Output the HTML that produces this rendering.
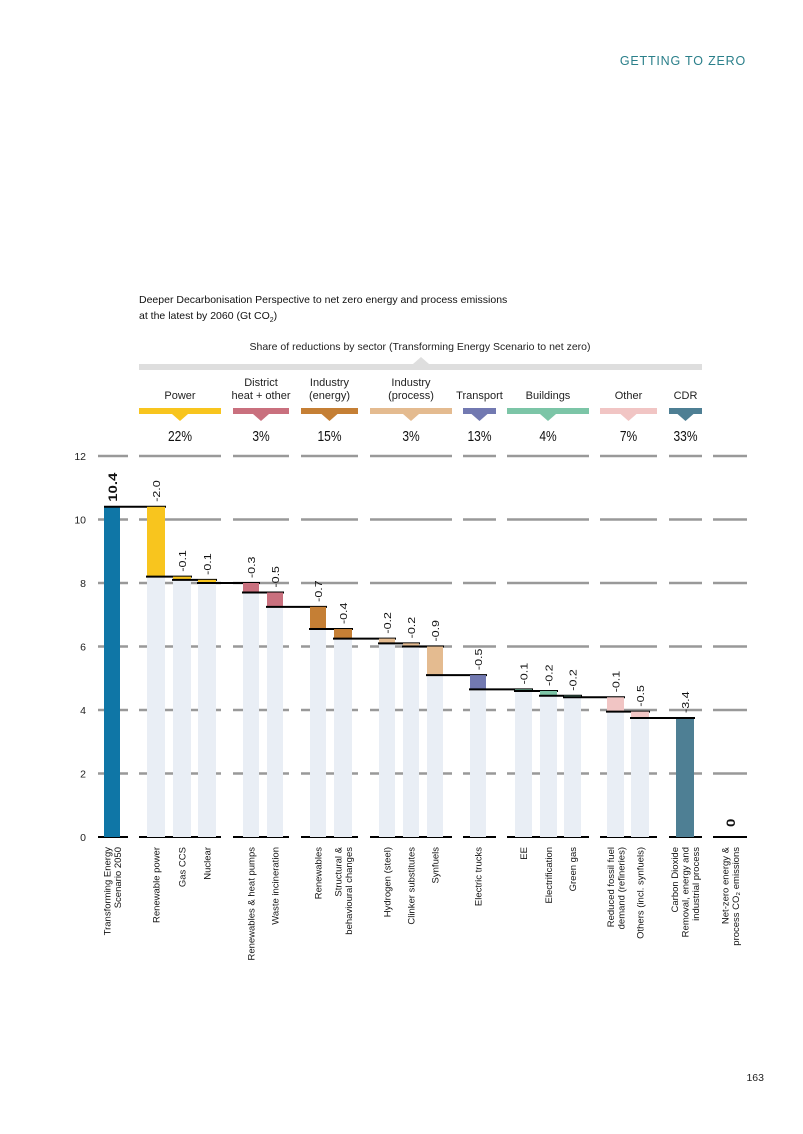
<!DOCTYPE html>
<html><head><meta charset="utf-8">
<style>
body{margin:0;background:#fff;}
#wrap{position:relative;width:803px;height:1134px;overflow:hidden;font-family:"Liberation Sans",sans-serif;}
svg text{font-family:"Liberation Sans",sans-serif;}
</style></head>
<body>
<div id="wrap">
<svg id="chart" width="803" height="1134">
<text x="746" y="65" text-anchor="end" font-size="12.5" fill="#2a7f8a" letter-spacing="0.8">GETTING TO ZERO</text>
<text x="139" y="303" font-size="10.5" fill="#111">Deeper Decarbonisation Perspective to net zero energy and process emissions</text>
<text x="139" y="319" font-size="10.5" fill="#111">at the latest by 2060 (Gt CO<tspan font-size="7" dy="3">2</tspan><tspan dy="-3">)</tspan></text>
<text x="420" y="350" text-anchor="middle" font-size="10.5" fill="#222">Share of reductions by sector (Transforming Energy Scenario to net zero)</text>
<rect x="139" y="364" width="563" height="6" fill="#dedede"/>
<polygon points="413,364 421,357 429,364" fill="#dedede"/>
<text x="764" y="1081" text-anchor="end" font-size="10.5" fill="#222">163</text>
<g id="g"></g>
</svg>
</div>
<script>
const categories=["Transforming Energy|Scenario 2050","Renewable power","Gas CCS","Nuclear","Renewables & heat pumps","Waste incineration","Renewables","Structural &|behavioural changes","Hydrogen (steel)","Clinker substitutes","Synfuels","Electric trucks","EE","Electrification","Green gas","Reduced fossil fuel|demand (refineries)","Others (incl. synfuels)","Carbon Dioxide|Removal, energy and|industrial process","Net-zero energy &|process CO₂ emissions"];
const startValue=10.4;
const deltas=[2.2,0.1,0.1,0.3,0.45,0.7,0.3,0.15,0.1,0.9,0.45,0.05,0.15,0.05,0.45,0.2,3.75];
const deltaLabels=["-2.0","-0.1","-0.1","-0.3","-0.5","-0.7","-0.4","-0.2","-0.2","-0.9","-0.5","-0.1","-0.2","-0.2","-0.1","-0.5","-3.4"];
const barSector=[1,1,1,2,2,3,3,4,4,4,5,6,6,6,7,7,8];
const sectorNames=["Power","District|heat + other","Industry|(energy)","Industry|(process)","Transport","Buildings","Other","CDR"];
const sectorShares=["22%","3%","15%","3%","13%","4%","7%","33%"];
const yTicks=[0,2,4,6,8,10,12];

const colors=["#0f76a6","#f8c51e","#c9707e","#c57f35","#e4bb90","#7279b1","#7cc5a7","#f1c5c4","#4e7f94"];
const barX=[104,147,173,198,243,267,310,334,379,403,427,470,515,540,564,607,631,676,722];
const barW=[16,18,18,18,16,16,16,18,16,16,16,16,17,17,17,17,18,18,16];
const groups=[[98,128],[139,221],[233,289],[301,358],[370,452],[463,496],[507,589],[600,657],[669,702],[713,747]];
const sectorGroupIdx=[1,2,3,4,5,6,7,8];

const NS="http://www.w3.org/2000/svg";
const g=document.getElementById('g');
const y=v=>837-v*31.75;
function el(t,a,p){const e=document.createElementNS(NS,t);for(const k in a)e.setAttribute(k,a[k]);(p||g).appendChild(e);return e;}

yTicks.forEach(t=>{
  const tl=el('text',{x:86,y:y(t)+4,'text-anchor':'end','font-size':10.5,fill:'#222'});tl.textContent=t;
  
  
  groups.forEach(gr=>{
    const l=el('line',{x1:gr[0],x2:gr[1],y1:y(t),y2:y(t),stroke:t===0?'#000':'#999','stroke-width':t===0?2:2.5});
    
    
  });
});

sectorNames.forEach((n,i)=>{
  const gr=groups[sectorGroupIdx[i]];const c=colors[i+1];const cx=(gr[0]+gr[1])/2;
  const r=el('rect',{x:gr[0],y:408,width:gr[1]-gr[0],height:6,fill:c});
  
  
  el('polygon',{points:`${cx-8},414 ${cx},421 ${cx+8},414`,fill:c});
  const parts=n.split('|');
  parts.forEach((p,k)=>{
    const t=el('text',{x:cx,y:399-(parts.length-1-k)*13,'text-anchor':'middle','font-size':11,fill:'#222'});t.textContent=p;
    
    
  });
  const s=el('text',{x:cx,y:441,'text-anchor':'middle','font-size':15,fill:'#111',transform:`translate(${cx},0) scale(0.8,1) translate(${-cx},0)`});s.textContent=sectorShares[i];
  
  
});

let level=startValue;
const b0=el('rect',{x:barX[0],y:y(level),width:barW[0],height:y(0)-y(level),fill:colors[0]});


const l0=el('text',{transform:`translate(${barX[0]+13},${y(level)-5}) rotate(-90) scale(1,0.8)`,'font-size':15,'font-weight':'bold',fill:'#111'});l0.textContent=startValue.toFixed(1);


el('line',{x1:barX[0],x2:barX[1]+barW[1]+1,y1:y(level),y2:y(level),stroke:'#000','stroke-width':2});
deltas.forEach((d,i)=>{
  const k=i+1;const top=level;level=Math.max(0,level-d);
  const bg=el('rect',{x:barX[k],y:y(level),width:barW[k],height:y(0)-y(level),fill:'#e9eef5'});
  
  
  const b=el('rect',{x:barX[k],y:y(top),width:barW[k],height:y(level)-y(top),fill:colors[barSector[i]]});
  
  
  const nx=k+1<barX.length-1?barX[k+1]+barW[k+1]+1:barX[k]+barW[k]+1;
  if(k<deltas.length){const ln=el('line',{x1:barX[k]-1,x2:nx,y1:y(level),y2:y(level),stroke:'#000','stroke-width':2});
  
  }
  else{const ln=el('line',{x1:barX[k-1]+4,x2:barX[k]+barW[k]+1,y1:y(top),y2:y(top),stroke:'#000','stroke-width':2});
  
  }
  const lx=barX[k]+barW[k]/2+4;
  const t=el('text',{transform:`translate(${lx},${y(top)-5}) rotate(-90) scale(1,0.8)`,'font-size':12.5,fill:'#111'});t.textContent=deltaLabels[i];
  
  
});
const z=el('text',{transform:`translate(${barX[18]+13},${y(0)-10}) rotate(-90) scale(1,0.8)`,'font-size':15,'font-weight':'bold',fill:'#111'});z.textContent='0';



categories.forEach((c,i)=>{
  const parts=c.split('|');const cx=barX[i]+barW[i]/2;const n=parts.length;
  parts.forEach((p,k)=>{
    const off=(k-(n-1)/2)*10.5+3.5;
    const t=el('text',{transform:`translate(${cx+off},847) rotate(-90)`,'text-anchor':'end','font-size':9.5,fill:'#111'});
    t.textContent=p;
    
    
  });
});
</script>
</body></html>
